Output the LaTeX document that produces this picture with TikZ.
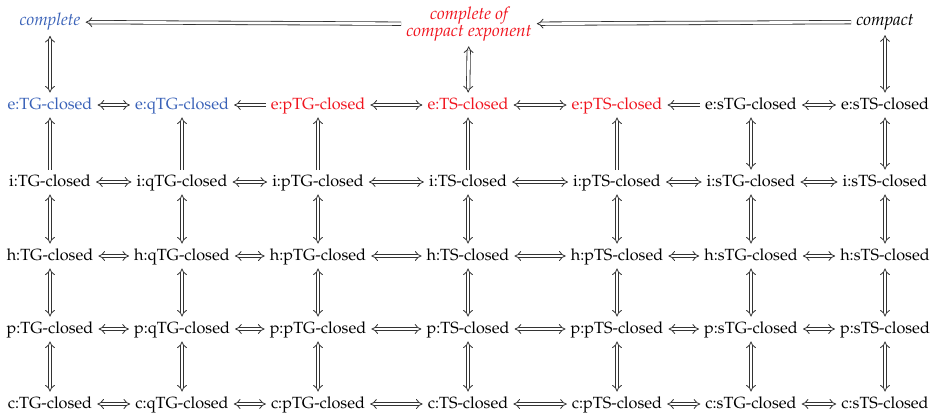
\documentclass[tikz,border=0pt]{standalone}
\usepackage[T1]{fontenc}
\usepackage{mathpazo}
\usetikzlibrary{arrows.meta}
\definecolor{cblue}{RGB}{58,98,184}
\definecolor{cred}{RGB}{240,20,30}
\tikzset{
  lab/.style={inner sep=3pt, text height=7pt, text depth=2pt, font=\fontsize{10}{12}\selectfont},
  top/.style={inner sep=3pt, font=\fontsize{10.7}{12}\selectfont\itshape},
  imp/.style={draw=black!80, line width=0.5pt, double equal sign distance, -Implies},
  iff/.style={draw=black!80, line width=0.5pt, double equal sign distance, Implies-Implies},
}
\begin{document}
\begin{tikzpicture}[x=0.6173pt,y=-0.6173pt]
\useasboundingbox (0,0) rectangle (937,417);
% top row
\node[top, text=cblue] (tc) at (50,22) {complete};
\node[top, text=cred, align=center] (tm) at (469,24) {complete of\\[-1.5pt]compact exponent};
\node[top, text=black] (tk) at (885,22) {compact};
% e row
\node[lab, text=cblue] (e1) at (50,105) {e:TG-closed};
\node[lab, text=cblue] (e2) at (182,105) {e:qTG-closed};
\node[lab, text=cred] (e3) at (318,105) {e:pTG-closed};
\node[lab, text=cred] (e4) at (468,105) {e:TS-closed};
\node[lab, text=cred] (e5) at (617,105) {e:pTS-closed};
\node[lab] (e6) at (751,105) {e:sTG-closed};
\node[lab] (e7) at (885,105) {e:sTS-closed};
% other rows
\foreach \r/\y in {i/182,h/256,p/329,c/404}{
  \node[lab] (\r1) at (50,\y) {\r:TG-closed};
  \node[lab] (\r2) at (182,\y) {\r:qTG-closed};
  \node[lab] (\r3) at (318,\y) {\r:pTG-closed};
  \node[lab] (\r4) at (468,\y) {\r:TS-closed};
  \node[lab] (\r5) at (617,\y) {\r:pTS-closed};
  \node[lab] (\r6) at (751,\y) {\r:sTG-closed};
  \node[lab] (\r7) at (885,\y) {\r:sTS-closed};
}
% top arrows
\draw[imp] (tm) -- (tc);
\draw[imp] (tk) -- (tm);
\draw[iff] (tc) -- (e1);
\draw[iff] (tm) -- (e4);
\draw[iff] (tk) -- (e7);
% e row
\draw[iff] (e1) -- (e2);
\draw[imp] (e3) -- (e2);
\draw[iff] (e3) -- (e4);
\draw[iff] (e4) -- (e5);
\draw[imp] (e6) -- (e5);
\draw[iff] (e6) -- (e7);
% e-i verticals
\foreach \k in {1,...,5}{ \draw[imp] (i\k) -- (e\k); }
\foreach \k in {6,7}{ \draw[iff] (i\k) -- (e\k); }
% other rows
\foreach \r in {i,h,p,c}{
  \draw[iff] (\r1) -- (\r2);
  \draw[iff] (\r2) -- (\r3);
  \draw[iff] (\r3) -- (\r4);
  \draw[iff] (\r4) -- (\r5);
  \draw[iff] (\r5) -- (\r6);
  \draw[iff] (\r6) -- (\r7);
}
\foreach \a/\b in {i/h,h/p,p/c}{
  \foreach \k in {1,...,7}{ \draw[iff] (\a\k) -- (\b\k); }
}
\end{tikzpicture}
\end{document}
